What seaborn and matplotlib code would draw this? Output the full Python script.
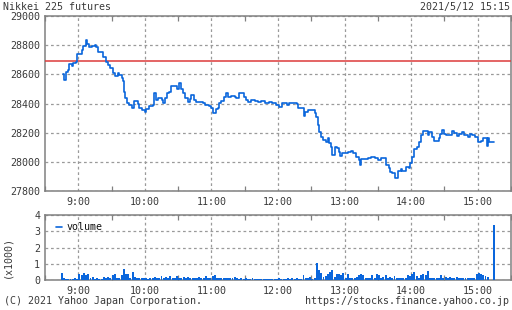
import matplotlib
matplotlib.use("Agg")
import matplotlib.pyplot as plt
from matplotlib.lines import Line2D
import seaborn as sns
import numpy as np
import pandas as pd

# ---------------- data ----------------
title = "Nikkei 225 futures"
stamp = "2021/5/12 15:15"
copyright_txt = "(C) 2021 Yahoo Japan Corporation."
url_txt = "https://stocks.finance.yahoo.co.jp"
hour_labels = ["9:00", "10:00", "11:00", "12:00", "13:00", "14:00", "15:00"]
price_ticks = [27800, 28000, 28200, 28400, 28600, 28800, 29000]
vol_ticks = [0, 1, 2, 3, 4]
prev_close = 28690

price_times = [
    "8:46", "8:47", "8:49", "8:51", "8:52", "8:54", "8:55", "8:58", "8:59", "9:03",
    "9:04", "9:07", "9:08", "9:10", "9:12", "9:15", "9:16", "9:18", "9:21", "9:22",
    "9:25", "9:27", "9:29", "9:31", "9:33", "9:36", "9:37", "9:39", "9:40", "9:41",
    "9:42", "9:44", "9:46", "9:48", "9:50", "9:52", "9:54", "9:55", "9:57", "10:00",
    "10:01", "10:04", "10:07", "10:08", "10:10", "10:12", "10:15", "10:16", "10:18", "10:20",
    "10:22", "10:24", "10:27", "10:29", "10:31", "10:33", "10:34", "10:36", "10:39", "10:41",
    "10:42", "10:44", "10:46", "10:49", "10:52", "10:54", "10:58", "11:00", "11:01", "11:04",
    "11:06", "11:07", "11:09", "11:11", "11:13", "11:15", "11:18", "11:21", "11:22", "11:25",
    "11:29", "11:31", "11:33", "11:36", "11:39", "11:42", "11:45", "11:48", "11:52", "11:55",
    "11:58", "12:01", "12:04", "12:08", "12:10", "12:17", "12:18", "12:21", "12:23", "12:24",
    "12:27", "12:31", "12:33", "12:34", "12:36", "12:37", "12:39", "12:41", "12:43", "12:45",
    "12:46", "12:48", "12:49", "12:51", "12:53", "12:55", "12:56", "12:58", "13:00", "13:03",
    "13:06", "13:08", "13:10", "13:13", "13:14", "13:15", "13:18", "13:21", "13:24", "13:27",
    "13:30", "13:33", "13:35", "13:37", "13:40", "13:41", "13:43", "13:45", "13:48", "13:51",
    "13:52", "13:55", "13:58", "13:59", "14:01", "14:03", "14:05", "14:07", "14:09", "14:11",
    "14:15", "14:16", "14:19", "14:21", "14:25", "14:26", "14:28", "14:30", "14:31", "14:37",
    "14:39", "14:41", "14:43", "14:46", "14:48", "14:51", "14:53", "14:55", "14:58", "15:00",
    "15:03", "15:05", "15:08", "15:09", "15:10", "15:15",
]
price_values = [
    28600, 28560, 28618, 28630, 28669, 28660, 28675, 28686, 28737, 28767,
    28794, 28835, 28810, 28790, 28795, 28800, 28790, 28755, 28750, 28721,
    28682, 28664, 28645, 28607, 28586, 28610, 28595, 28573, 28552, 28481,
    28435, 28401, 28390, 28367, 28415, 28418, 28400, 28370, 28355, 28345,
    28365, 28383, 28390, 28470, 28425, 28435, 28424, 28405, 28435, 28474,
    28481, 28520, 28520, 28500, 28538, 28497, 28470, 28435, 28408, 28429,
    28458, 28424, 28408, 28413, 28406, 28390, 28383, 28367, 28333, 28360,
    28367, 28401, 28419, 28447, 28470, 28447, 28451, 28447, 28435, 28470,
    28447, 28424, 28408, 28424, 28419, 28408, 28419, 28406, 28408, 28401,
    28390, 28374, 28401, 28390, 28401, 28394, 28371, 28367, 28316, 28340,
    28355, 28355, 28333, 28310, 28253, 28207, 28172, 28150, 28138, 28161,
    28127, 28104, 28047, 28104, 28093, 28070, 28040, 28058, 28063, 28070,
    28074, 28058, 28035, 28012, 27980, 28019, 28019, 28024, 28035, 28024,
    28012, 28028, 28028, 27978, 27960, 27932, 27921, 27887, 27937, 27951,
    27939, 27967, 27956, 27990, 28035, 28086, 28104, 28138, 28184, 28214,
    28184, 28207, 28172, 28143, 28161, 28191, 28218, 28191, 28184, 28214,
    28200, 28177, 28191, 28207, 28184, 28172, 28189, 28184, 28168, 28138,
    28145, 28161, 28110, 28161, 28138, 28138,
]

vol_start = "8:45"          # first volume bar, one bar every 2 minutes
vol_values = [
    0.45, 0.10, 0.08, 0.05, 0.08, 0.05, 0.10, 0.08,
    0.35, 0.30, 0.45, 0.30, 0.38, 0.15, 0.16, 0.08, 0.10, 0.08, 0.06, 0.18, 0.12, 0.20, 0.12,
    0.32, 0.35, 0.15, 0.12, 0.30, 0.68, 0.35, 0.40, 0.15, 0.50, 0.18, 0.10, 0.15, 0.10, 0.12,
    0.10, 0.08, 0.10, 0.15, 0.20, 0.12, 0.10, 0.22, 0.12, 0.18, 0.10, 0.25, 0.12, 0.15, 0.25,
    0.15, 0.10, 0.20, 0.12, 0.20, 0.10, 0.15, 0.10, 0.12, 0.20, 0.10, 0.15, 0.22, 0.10, 0.12,
    0.25, 0.28, 0.15, 0.10, 0.12, 0.10, 0.15, 0.10, 0.12, 0.10, 0.18, 0.10, 0.08, 0.10, 0.08,
    0.10, 0.08, 0.06, 0.10, 0.08, 0.06, 0.08, 0.06, 0.08, 0.06, 0.08, 0.06, 0.08, 0.05, 0.08,
    0.10, 0.06, 0.08, 0.05, 0.10, 0.06, 0.10, 0.05, 0.10, 0.06, 0.08, 0.30, 0.10, 0.12, 0.20,
    0.08, 0.10, 1.05, 0.60, 0.45, 0.20, 0.25, 0.35, 0.50, 0.60, 0.20, 0.40, 0.35, 0.30, 0.45,
    0.15, 0.35, 0.15, 0.10, 0.15, 0.20, 0.30, 0.35, 0.30, 0.10, 0.15, 0.10, 0.30, 0.15, 0.35,
    0.30, 0.15, 0.20, 0.30, 0.10, 0.20, 0.15, 0.25, 0.10, 0.15, 0.10, 0.12, 0.15, 0.30, 0.25,
    0.35, 0.50, 0.25, 0.15, 0.30, 0.35, 0.30, 0.55, 0.15, 0.10, 0.15, 0.10, 0.15, 0.30, 0.10,
    0.20, 0.12, 0.18, 0.10, 0.15, 0.20, 0.10, 0.15, 0.12, 0.10, 0.15, 0.12, 0.15, 0.10, 0.35,
    0.45, 0.35, 0.30, 0.25, 0.20, 0.0, 0.0,
]
close_time = "15:15"
close_vol = 3.4


def mins(t):
    h, m = t.split(":")
    return (int(h) - 8) * 60 + int(m) - 30   # minutes since 8:30


price_df = pd.DataFrame({"t": [mins(t) for t in price_times], "p": price_values})
vt = [mins(vol_start) + 2 * i for i in range(len(vol_values))] + [mins(close_time)]
vol_df = pd.DataFrame({"t": vt, "v": vol_values + [close_vol]})

# ---------------- style ----------------
sns.set_theme(style="white")
plt.rcParams["font.family"] = ["DejaVu Sans Mono"]
FS = 7.2
TXT = "#3a3a3a"
GRID = "#9a9a9a"
SPINE = "#808080"
BLUE = "#0a66dc"
RED = "#dd3b3b"

W, H = 512, 310
fig = plt.figure(figsize=(W / 100, H / 100), dpi=100)
fig.patch.set_facecolor("white")


def axbox(l, t, r, b):
    return [l / W, (H - b) / H, (r - l) / W, (b - t) / H]


ax = fig.add_axes(axbox(45, 16, 511, 191))
axv = fig.add_axes(axbox(45, 215, 511, 280))

hour_pos = [mins(h) for h in hour_labels]
half_pos = [p + 30 for p in [mins("8:00")] + hour_pos]

# price
sns.lineplot(data=price_df, x="t", y="p", ax=ax, drawstyle="steps-post",
             color=BLUE, linewidth=1.2, zorder=4, estimator=None)
ax.axhline(prev_close, color=RED, linewidth=1.1, zorder=3)
ax.set_ylim(27800, 29000)
ax.set_yticks(price_ticks)
ax.set_yticklabels([str(v) for v in price_ticks])

# volume
sns.histplot(data=vol_df, x="t", weights="v", binwidth=2,
             binrange=(mins(vol_start) - 1, mins(close_time) + 1), ax=axv, color=BLUE,
             alpha=1.0, linewidth=0, shrink=0.88, zorder=3)
axv.set_ylim(0, 4)
axv.set_yticks(vol_ticks)
axv.set_yticklabels([str(v) for v in vol_ticks])

for a in (ax, axv):
    a.set_facecolor("white")
    a.set_xlim(0, 420)
    a.set_xticks(hour_pos)
    a.set_xticklabels(hour_labels)
    a.set_xticks(half_pos, minor=True)
    a.tick_params(axis="x", which="major", length=0, pad=4, labelsize=FS, colors=TXT)
    a.tick_params(axis="x", which="minor", direction="in", length=3.5, width=0.9,
                  color=SPINE, top=True, bottom=True)
    a.tick_params(axis="y", which="major", length=0, pad=3.5, labelsize=FS, colors=TXT)
    for s in a.spines.values():
        s.set_color(SPINE)
        s.set_linewidth(1.1)
    a.grid(True, which="major", color=GRID, linestyle=(0, (2.2, 2.2)), linewidth=0.9)
    a.set_axisbelow(True)
    a.set_xlabel("")
    a.set_ylabel("")

leg = axv.legend(handles=[Line2D([], [], color=BLUE, linewidth=1.2, label="volume")],
                 loc="upper left", frameon=False, fontsize=FS, handlelength=0.6,
                 handletextpad=0.5, borderaxespad=0.3, bbox_to_anchor=(0.008, 1.0))
for t in leg.get_texts():
    t.set_color("#111111")

# texts
fig.text(3 / W, 1 - 7 / H, title, fontsize=FS, color=TXT, ha="left", va="center")
fig.text(510 / W, 1 - 7 / H, stamp, fontsize=FS, color=TXT, ha="right", va="center")
fig.text(4 / W, 1 - 301 / H, copyright_txt, fontsize=FS, color=TXT, ha="left", va="center")
fig.text(509 / W, 1 - 301 / H, url_txt, fontsize=FS, color=TXT, ha="right", va="center")
fig.text(7 / W, 1 - 257 / H, "(x1000)", fontsize=FS, color=TXT, ha="center",
         va="center", rotation=90)

fig.savefig("out.png", dpi=100, facecolor="white")
